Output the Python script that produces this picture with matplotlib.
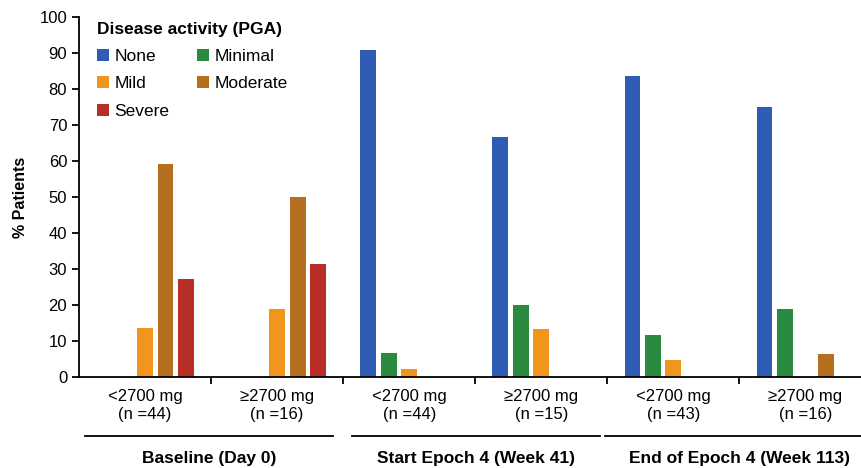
import matplotlib
matplotlib.use("Agg")
import matplotlib.pyplot as plt
import numpy as np

plt.rcParams['font.family'] = ['Liberation Sans', 'DejaVu Sans']

# data (% patients)
groups = ["<2700 mg\n(n =44)", "\u22652700 mg\n(n =16)",
          "<2700 mg\n(n =44)", "\u22652700 mg\n(n =15)",
          "<2700 mg\n(n =43)", "\u22652700 mg\n(n =16)"]
none_v = [0, 0, 90.9, 66.7, 83.7, 75.0]
minimal_v = [0, 0, 6.8, 20.0, 11.6, 18.8]
mild_v = [13.6, 18.8, 2.3, 13.3, 4.7, 0]
moderate_v = [59.1, 50.0, 0, 0, 0, 6.3]
severe_v = [27.3, 31.3, 0, 0, 0, 0]
periods = ["Baseline (Day 0)", "Start Epoch 4 (Week 41)", "End of Epoch 4 (Week 113)"]

series = [("None", none_v, "#2F5DB5"),
          ("Minimal", minimal_v, "#2A8A3F"),
          ("Mild", mild_v, "#F0961C"),
          ("Moderate", moderate_v, "#B56F1F"),
          ("Severe", severe_v, "#B72D27")]

fig = plt.figure(figsize=(8.61, 4.68), dpi=100)
ax = fig.add_axes([79/861, 1-377/468, 1-79/861, 360/468])

x = np.arange(len(groups))
slot = 0.155
bw = 0.12
bars = {}
for i, (name, vals, col) in enumerate(series):
    h = ax.bar(x + (i-2)*slot, vals, width=bw, color=col, label=name)
    bars[name] = h

ax.set_xlim(-0.5, 5.42)
ax.set_ylim(0, 100)
ax.set_yticks(range(0, 101, 10))
ax.set_ylabel("% Patients", fontsize=11.5, fontweight="bold", labelpad=8)
ax.spines['top'].set_visible(False)
ax.spines['right'].set_visible(False)
ax.spines['left'].set_linewidth(1.3)
ax.spines['bottom'].set_linewidth(1.3)
ax.tick_params(axis='y', labelsize=12, width=1.3, length=5)

ax.set_xticks(np.arange(0.5, 5, 1))
ax.set_xticklabels([])
ax.tick_params(axis='x', which='major', width=1.3, length=5)
ax.set_xticks(x, minor=True)
ax.set_xticklabels(groups, minor=True, fontsize=12)
ax.tick_params(axis='x', which='minor', length=0, pad=9)

# period lines and labels
spans = [(-0.455, 1.424), (1.568, 3.447), (3.485, 5.45)]
tr = ax.get_xaxis_transform()
for (a, b), lab in zip(spans, periods):
    ax.plot([a, b], [-0.164, -0.164], color="black", lw=1.3, transform=tr, clip_on=False)
    ax.text((a + b) / 2 if b < 5 else 4.5, -0.225, lab, transform=tr, ha="center", va="center",
            fontsize=12.5, fontweight="bold")

order = ["None", "Mild", "Severe", "Minimal", "Moderate"]
leg = ax.legend([bars[n] for n in order], order, ncol=2, loc="upper left",
                bbox_to_anchor=(0.003, 1.03), frameon=False, fontsize=12.5,
                title="Disease activity (PGA)", title_fontproperties={"weight": "bold", "size": 12.5},
                handlelength=0.7, handleheight=0.7, handletextpad=0.3,
                columnspacing=1.6, labelspacing=0.7, alignment="left")

fig.savefig("out.png", dpi=100)
